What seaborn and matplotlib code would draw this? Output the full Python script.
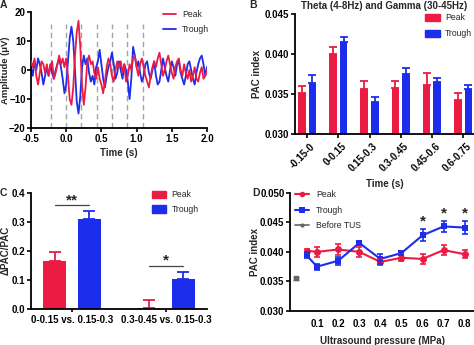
import numpy as np
import pandas as pd
import matplotlib
matplotlib.use("Agg")
import matplotlib.pyplot as plt
import matplotlib.transforms as mtransforms
import seaborn as sns
from matplotlib.patches import Patch
from matplotlib.lines import Line2D

sns.set_theme(style="ticks")
plt.rcParams["font.family"] = ["Liberation Sans", "DejaVu Sans"]
plt.rcParams["font.weight"] = "bold"
plt.rcParams["axes.labelweight"] = "bold"

RED = "#EC1B43"
BLUE = "#1C2DEB"
GRAY = "#666666"
FS = 7
LFS = 6.2

# ---------------- Panel A data ----------------
time_a = np.linspace(-0.5, 2.0, 101)
trough_a = [1, -2, 3, 0, 4, 2, -1, -5, -2, 1,
            -2, 2, -1, -3, 0, 2, 4, 1, -3, -8,
            -5, 3, 11, 15, 10, 0, -11, -15, -9, 1,
            5, 2, 4, -1, -4, -2, -5, 1, 3, 7,
            2, -3, -6, -2, 1, 3, 6, 2, -3, -1,
            3, 0, -3, 2, 0, -4, -10, -3, 8, 5,
            1, 3, -1, -4, -2, 2, 3, -1, -3, 0,
            3, -2, -5, -4, 0, 4, 1, -2, -4, 0,
            3, 1, -2, 2, 3, -1, -3, -5, -2, 2,
            3, 0, -3, -5, -1, 2, 4, 5, 2, -2, 1]
peak_a = [3, 1, 4, -2, -5, -1, 3, 2, -1, 2,
          -2, 1, 3, -3, -1, 2, 5, 2, 4, 1,
          4, -2, -10, -12, -6, 5, 13, 17, 8, -5,
          -12, -6, 3, 5, 2, 3, -1, -3, 1, -3,
          -5, -8, -4, 1, 4, 2, -2, -4, 0, 3,
          1, 3, -1, 2, -4, -2, 2, 0, 4, 5,
          1, -2, 2, 4, 1, -2, -4, -6, -2, 1,
          3, 1, 4, 6, 2, -2, 0, 3, 5, 2,
          -1, -3, 1, 3, 4, 0, -2, 2, -1, -3,
          0, -4, -2, 1, -3, -4, -1, 1, -3, -2, 0]
stim_times = [-0.217, 0.0, 0.217, 0.434, 0.651, 0.868, 1.085]

# ---------------- Panel B data ----------------
windows_b = ["-0.15-0", "0-0.15", "0.15-0.3", "0.3-0.45", "0.45-0.6", "0.6-0.75"]
peak_b = [0.0352, 0.0400, 0.0357, 0.0358, 0.0362, 0.0343]
peak_b_err = [0.0008, 0.0009, 0.0009, 0.0009, 0.0015, 0.0008]
trough_b = [0.0364, 0.0415, 0.0340, 0.0375, 0.0365, 0.0356]
trough_b_err = [0.0010, 0.0006, 0.0007, 0.0008, 0.0005, 0.0006]

# ---------------- Panel C data ----------------
compare_c = ["0-0.15 vs. 0.15-0.3", "0.3-0.45 vs. 0.15-0.3"]
peak_c = [0.165, 0.003]
peak_c_err = [0.030, 0.028]
trough_c = [0.311, 0.102]
trough_c_err = [0.025, 0.026]
sig_c = ["**", "*"]

# ---------------- Panel D data ----------------
pressure_d = [0.05, 0.1, 0.2, 0.3, 0.4, 0.5, 0.6, 0.7, 0.8]
peak_d = [0.0402, 0.0400, 0.0404, 0.0400, 0.0383, 0.0390, 0.0388, 0.0403, 0.0396]
peak_d_err = [0.0003, 0.0008, 0.0010, 0.0008, 0.0005, 0.0006, 0.0009, 0.0009, 0.0007]
trough_d = [0.0394, 0.0375, 0.0385, 0.0415, 0.0388, 0.0398, 0.0428, 0.0443, 0.0441]
trough_d_err = [0.0005, 0.0005, 0.0007, 0.0004, 0.0009, 0.0004, 0.0010, 0.0009, 0.0011]
before_x = [0.0]
before_d = [0.0355]
before_d_err = [0.0002]
sig_d = ["", "", "", "", "", "", "*", "*", "*"]

fig = plt.figure(figsize=(4.74, 3.45), dpi=100)
axA = fig.add_axes([0.0654, 0.629, 0.3713, 0.336])
axB = fig.add_axes([0.6217, 0.6107, 0.3783, 0.3479])
axC = fig.add_axes([0.0654, 0.1052, 0.3713, 0.3362])
axD = fig.add_axes([0.6125, 0.0986, 0.3875, 0.3428])


def style_axis(ax):
    sns.despine(ax=ax)
    for s in ("left", "bottom"):
        ax.spines[s].set_linewidth(1.3)
        ax.spines[s].set_color("black")
    ax.tick_params(axis="both", which="both", direction="out", length=3,
                   width=1.2, labelsize=FS, pad=1.2, colors="black")
    for lab in ax.get_xticklabels() + ax.get_yticklabels():
        lab.set_fontweight("bold")


# ---------------- Panel A ----------------
dfA = pd.DataFrame({"t": np.concatenate([time_a, time_a]),
                    "amp": peak_a + trough_a,
                    "cond": ["Peak"] * len(time_a) + ["Trough"] * len(time_a)})
axA.vlines(stim_times, -20, 16, colors="#A0A6AE", linestyles=(0, (4, 2.5)), linewidth=1.0, zorder=1)
sns.lineplot(data=dfA[dfA.cond == "Peak"], x="t", y="amp", color=RED, linewidth=1.3, ax=axA, zorder=3)
sns.lineplot(data=dfA[dfA.cond == "Trough"], x="t", y="amp", color=BLUE, linewidth=1.3, ax=axA, zorder=2)
axA.set_xlim(-0.5, 2.0)
axA.set_ylim(-20, 20)
axA.set_xticks([-0.5, 0.0, 0.5, 1.0, 1.5, 2.0])
axA.set_xticklabels(["-0.5", "0.0", "0.5", "1.0", "1.5", "2.0"])
axA.set_yticks([-20, -10, 0, 10, 20])
axA.set_xlabel("Time (s)", fontsize=FS, labelpad=3)
axA.set_ylabel("Amplitude (μV)", fontsize=6.8)
axA.yaxis.set_label_coords(-0.122, 0.5)
style_axis(axA)
axA.tick_params(axis="y", pad=0.8)
axA.legend(handles=[Line2D([], [], color=RED, lw=1.3), Line2D([], [], color=BLUE, lw=1.3)],
           labels=["Peak", "Trough"], loc="upper left", bbox_to_anchor=(0.75, 1.02),
           frameon=False, handlelength=1.5, handletextpad=0.7,
           borderaxespad=0, borderpad=0, labelspacing=0.75,
           prop={"weight": "normal", "size": LFS})

# ---------------- Panel B ----------------
dfB = pd.DataFrame({"win": windows_b * 2, "pac": peak_b + trough_b,
                    "cond": ["Peak"] * 6 + ["Trough"] * 6})
sns.barplot(data=dfB, x="win", y="pac", hue="cond", order=windows_b,
            palette={"Peak": RED, "Trough": BLUE}, saturation=1, errorbar=None,
            width=0.68, gap=0.29, linewidth=0, legend=False, ax=axB)
for cont, errs, col in zip(axB.containers, [peak_b_err, trough_b_err], [RED, BLUE]):
    xs = [b.get_x() + b.get_width() / 2 for b in cont]
    ys = [b.get_height() for b in cont]
    axB.errorbar(xs, ys, yerr=[np.zeros(len(errs)), errs], fmt="none", ecolor=col,
                 elinewidth=1.3, capsize=3, capthick=1.3, zorder=1)
axB.set_ylim(0.030, 0.045)
axB.set_xlim(-0.4, 5.35)
axB.set_yticks([0.030, 0.035, 0.040, 0.045])
axB.set_yticklabels(["0.030", "0.035", "0.040", "0.045"])
axB.set_xlabel("Time (s)", fontsize=FS, labelpad=4)
axB.set_ylabel("PAC index", fontsize=FS)
axB.yaxis.set_label_coords(-0.18, 0.5)
axB.set_title("Theta (4-8Hz) and Gamma (30-45Hz)", fontsize=FS, fontweight="bold", pad=4)
style_axis(axB)
offset = mtransforms.ScaledTranslation(3 / 100, -1 / 100, fig.dpi_scale_trans)
for lab in axB.get_xticklabels():
    lab.set_rotation(45)
    lab.set_ha("right")
    lab.set_va("top")
    lab.set_rotation_mode("anchor")
    lab.set_transform(lab.get_transform() + offset)
axB.legend(handles=[Patch(color=RED), Patch(color=BLUE)], labels=["Peak", "Trough"],
           loc="upper left", bbox_to_anchor=(0.728, 1.01), frameon=False,
           handlelength=1.7, handleheight=0.9, handletextpad=0.6, borderaxespad=0,
           borderpad=0, labelspacing=0.85, prop={"weight": "normal", "size": LFS})

# ---------------- Panel C ----------------
dfC = pd.DataFrame({"cmp": compare_c * 2, "d": peak_c + trough_c,
                    "cond": ["Peak"] * 2 + ["Trough"] * 2})
sns.barplot(data=dfC, x="cmp", y="d", hue="cond", order=compare_c,
            palette={"Peak": RED, "Trough": BLUE}, saturation=1, errorbar=None,
            width=0.744, gap=0.355, linewidth=0, legend=False, ax=axC)
centers = {}
for cont, errs, col, key in zip(axC.containers, [peak_c_err, trough_c_err], [RED, BLUE], ["p", "t"]):
    xs = [b.get_x() + b.get_width() / 2 for b in cont]
    ys = [b.get_height() for b in cont]
    centers[key] = (xs, ys, errs)
    axC.errorbar(xs, ys, yerr=[np.zeros(len(errs)), errs], fmt="none", ecolor=col,
                 elinewidth=1.3, capsize=4, capthick=1.3, zorder=1)
for i, s in enumerate(sig_c):
    xp = centers["p"][0][i]
    xt = centers["t"][0][i]
    top = max(centers["p"][1][i] + centers["p"][2][i], centers["t"][1][i] + centers["t"][2][i])
    yl = top + 0.02
    axC.plot([xp, xt], [yl, yl], color="#444444", lw=0.9)
    axC.text((xp + xt) / 2, yl - 0.006, s, ha="center", va="bottom", fontsize=11, fontweight="bold")
axC.set_ylim(0, 0.4)
axC.set_xlim(-0.436, 1.436)
axC.set_yticks([0.0, 0.1, 0.2, 0.3, 0.4])
axC.set_yticklabels(["0.0", "0.1", "0.2", "0.3", "0.4"])
axC.set_xlabel("")
axC.set_ylabel("ΔPAC/PAC", fontsize=FS)
axC.yaxis.set_label_coords(-0.115, 0.5)
style_axis(axC)
axC.tick_params(axis="x", length=2, pad=2.5)
axC.legend(handles=[Patch(color=RED), Patch(color=BLUE)], labels=["Peak", "Trough"],
           loc="upper left", bbox_to_anchor=(0.686, 1.02), frameon=False,
           handlelength=1.7, handleheight=0.9, handletextpad=0.6, borderaxespad=0,
           borderpad=0, labelspacing=0.65, prop={"weight": "normal", "size": LFS})

# ---------------- Panel D ----------------
dfD = pd.DataFrame({"p": pressure_d * 2, "pac": peak_d + trough_d,
                    "cond": ["Peak"] * 9 + ["Trough"] * 9})
sns.lineplot(data=dfD, x="p", y="pac", hue="cond", style="cond",
             markers={"Peak": "o", "Trough": "s"}, dashes=False,
             palette={"Peak": RED, "Trough": BLUE}, markersize=5, linewidth=1.5,
             markeredgewidth=0, legend=False, ax=axD)
axD.errorbar(pressure_d, peak_d, yerr=peak_d_err, fmt="none", ecolor=RED,
             elinewidth=1.2, capsize=2.5, capthick=1.2)
axD.errorbar(pressure_d, trough_d, yerr=trough_d_err, fmt="none", ecolor=BLUE,
             elinewidth=1.2, capsize=2.5, capthick=1.2)
axD.errorbar(before_x, before_d, yerr=before_d_err, fmt="s", color=GRAY, ms=2.5,
             elinewidth=1.0, capsize=2, capthick=1.0)
for x, y, e, s in zip(pressure_d, trough_d, trough_d_err, sig_d):
    if s:
        axD.text(x, y + e + 0.0001, s, ha="center", va="bottom", fontsize=11, fontweight="bold")
axD.set_xlim(-0.027, 0.844)
axD.set_ylim(0.030, 0.050)
axD.set_xticks([0.1, 0.2, 0.3, 0.4, 0.5, 0.6, 0.7, 0.8])
axD.set_xticklabels(["0.1", "0.2", "0.3", "0.4", "0.5", "0.6", "0.7", "0.8"])
axD.set_yticks([0.030, 0.035, 0.040, 0.045, 0.050])
axD.set_yticklabels(["0.030", "0.035", "0.040", "0.045", "0.050"])
axD.set_xlabel("Ultrasound pressure (MPa)", fontsize=FS, labelpad=5)
axD.set_ylabel("PAC index", fontsize=FS)
axD.yaxis.set_label_coords(-0.165, 0.5)
style_axis(axD)
axD.tick_params(axis="x", length=0, pad=5.5)
axD.legend(handles=[Line2D([], [], color=RED, lw=1.5, marker="o", ms=4, mew=0),
                    Line2D([], [], color=BLUE, lw=1.5, marker="s", ms=4, mew=0),
                    Line2D([], [], color=GRAY, lw=1.2, marker="o", ms=3, mew=0)],
           labels=["Peak", "Trough", "Before TUS"], loc="upper left",
           bbox_to_anchor=(0.027, 1.02), frameon=False, handlelength=1.6,
           handletextpad=0.8, borderaxespad=0, borderpad=0, labelspacing=0.75,
           prop={"weight": "normal", "size": LFS})

# panel letters
fig.text(0.0, 0.999, "A", fontsize=7.5, fontweight="bold", va="top", ha="left")
fig.text(0.525, 0.999, "B", fontsize=7.5, fontweight="bold", va="top", ha="left")
fig.text(0.0, 0.44, "C", fontsize=7.5, fontweight="bold", va="center", ha="left")
fig.text(0.532, 0.44, "D", fontsize=7.5, fontweight="bold", va="center", ha="left")

fig.savefig("out.png", dpi=100)
